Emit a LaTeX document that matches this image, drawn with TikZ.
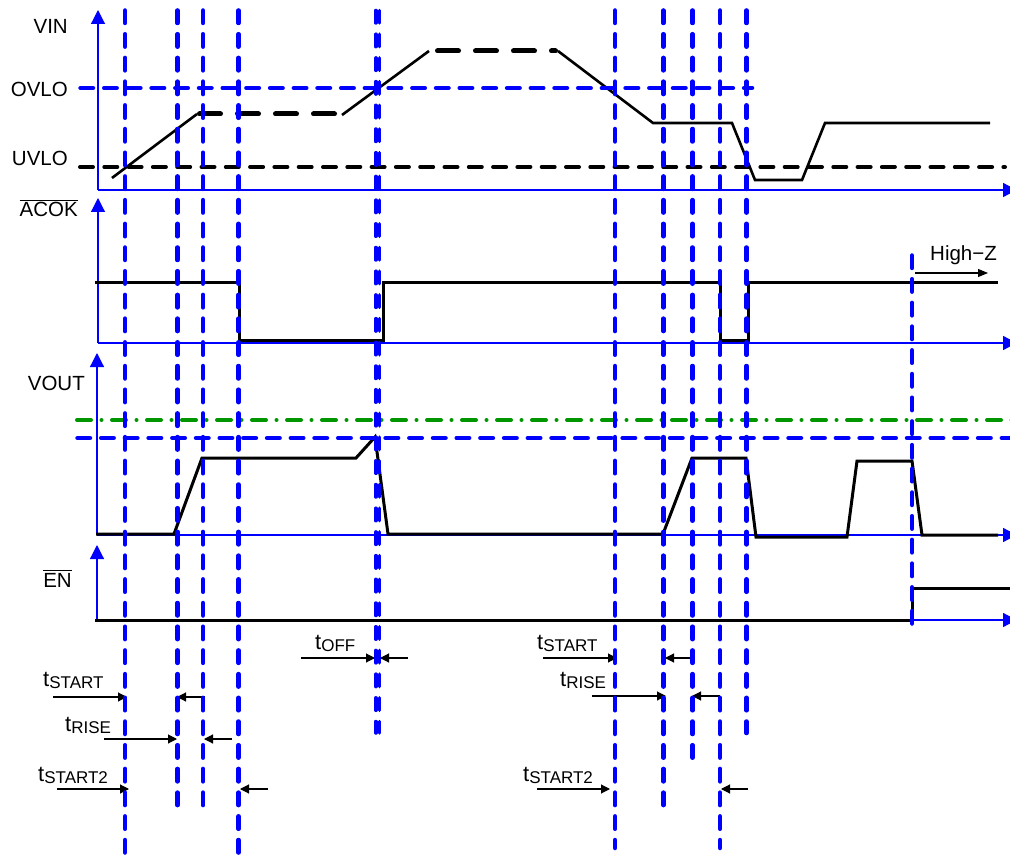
\documentclass[tikz,border=0pt]{standalone}
\usepackage{fontspec}
\setmainfont{Liberation Sans}
\usetikzlibrary{arrows.meta}
\definecolor{vgreen}{RGB}{0,150,0}
\newcommand{\tsub}[1]{{\fontsize{22}{24}\selectfont t}\raisebox{-2pt}{\fontsize{17}{17}\selectfont #1}}
\begin{document}
\begin{tikzpicture}[x=1pt,y=-1pt,
 lbl/.style={inner sep=0pt, font=\fontsize{20.5}{24}\selectfont},
 axisline/.style={blue, line width=1.2pt},
 axtip/.style={-{Triangle[length=14pt,width=14pt]}},
 guide/.style={blue, line width=4.5pt, line cap=round, dash pattern=on 12.5pt off 11.2pt},
 sig/.style={black, line width=3pt},
 vinsig/.style={black, line width=2.6pt},
 sigdash/.style={black, line width=5pt, line cap=round, dash pattern=on 21pt off 17pt},
 uvlodash/.style={black, line width=4pt, line cap=round, dash pattern=on 13pt off 11.3pt},
 greendash/.style={draw=vgreen, line width=4pt, line cap=round, dash pattern=on 14pt off 10.5pt on 0pt off 10.5pt},
 tarrow/.style={black, line width=1.1pt, -{Triangle[length=9pt,width=9pt]}},
 ovl/.style={black, line width=1.2pt},
]
\useasboundingbox (0,0) rectangle (1010,861);

% axes
\draw[axisline,axtip] (98,190) -- (98,10);
\draw[axisline,axtip] (98,190) -- (1017,190);
\draw[axisline,axtip] (98,343) -- (98,198);
\draw[axisline,axtip] (98,343) -- (1017,343);
\draw[axisline,axtip] (97,535) -- (97,353);
\draw[axisline,axtip] (97,535) -- (1017,535);
\draw[axisline,axtip] (97,620) -- (97,545);
\draw[axisline,axtip] (97,620) -- (1017,620);

% labels
\node[lbl,anchor=base east] (vin) at (68,34) {VIN};
\node[lbl,anchor=base east] (ovlo) at (68,96.5) {OVLO};
\node[lbl,anchor=base east] (uvlo) at (68,166) {UVLO};
\node[lbl,anchor=base east] (acok) at (78,217) {ACOK};
\draw[ovl] ([yshift=2pt]acok.north west) -- ([yshift=2pt]acok.north east);
\node[lbl,anchor=base east] (vout) at (85,390) {VOUT};
\node[lbl,anchor=base east] (en) at (72,587) {EN};
\draw[ovl] ([yshift=2pt]en.north west) -- ([yshift=2pt]en.north east);
\node[lbl,anchor=base west] (hiz) at (930,261) {High−Z};

% threshold lines
\draw[uvlodash] (80,167) -- (1005,167);
\draw[greendash] (77,420) -- (1012,420);

% VIN signal
\draw[vinsig] (112,178) -- (197,114);
\draw[sigdash] (199.5,114) -- (340,114);
\draw[vinsig] (342,115) -- (429,51);
\draw[sigdash] (437.5,51) -- (555.5,51);
\draw[vinsig] (558,51) -- (653,123) -- (732,123) -- (755,180) -- (802,180) -- (825,123) -- (990,123);

% ACOK signal
\draw[sig] (95,283) -- (239,283) -- (239,340) -- (383,340) -- (383,283) -- (720,283) -- (720,340) -- (748,340) -- (748,283) -- (998,283);
\coordinate (hz0) at (915,273);
\coordinate (hz1) at (988,273);
\draw[black, line width=1.1pt, -{Triangle[length=10pt,width=8pt]}] (hz0) -- (hz1);

% VOUT signal
\draw[sig] (96,534) -- (174,534) -- (202,458) -- (356,458) -- (375,437) -- (388,534) -- (663,534) -- (692,458) -- (746,458) -- (756,537) -- (847,537) -- (857,461) -- (912,461) -- (922,535) -- (998,535);

% EN signal
\draw[sig] (95,620) -- (912,620) -- (912,588) -- (1012,588);

% timing labels
\node[lbl,anchor=base west] (ts1) at (43,686) {\tsub{START}};
\node[lbl,anchor=base west] (tr1) at (65,731) {\tsub{RISE}};
\node[lbl,anchor=base west] (tss1) at (38,781) {\tsub{START2}};
\node[lbl,anchor=base west] (toff) at (315,649) {\tsub{OFF}};
\node[lbl,anchor=base west] (ts2) at (537,649) {\tsub{START}};
\node[lbl,anchor=base west] (tr2) at (560,686) {\tsub{RISE}};
\node[lbl,anchor=base west] (tss2) at (523,781) {\tsub{START2}};

% timing arrows
\draw[tarrow] (53,697) -- (127,697);
\draw[tarrow] (205,697) -- (177,697);
\draw[tarrow] (104,739) -- (177,739);
\draw[tarrow] (232,739) -- (204,739);
\draw[tarrow] (57,789) -- (129,789);
\draw[tarrow] (268,789) -- (240,789);
\draw[tarrow] (301,658) -- (375,658);
\draw[tarrow] (408,658) -- (380,658);
\draw[tarrow] (543,658) -- (617,658);
\draw[tarrow] (693,658) -- (665,658);
\draw[tarrow] (592,696) -- (666,696);
\draw[tarrow] (720,696) -- (692,696);
\draw[tarrow] (537,789) -- (610,789);
\draw[tarrow] (748,789) -- (721,789);

% blue guide lines
\draw[guide] (80.5,88) -- (752,88);
\draw[guide] (77.5,438) -- (1012,438);
\draw[guide] (125,10.5) -- (125,856);
\draw[guide] (177.5,10.5) -- (177.5,810);
\draw[guide] (203,10.5) -- (203,810);
\draw[guide] (238.5,10.5) -- (238.5,856);
\draw[guide, line width=3.5pt] (375.8,10.5) -- (375.8,733);
\draw[guide, line width=3.5pt] (379.7,10.5) -- (379.7,733);
\draw[guide] (615,10.5) -- (615,848);
\draw[guide] (663.3,10.5) -- (663.3,810);
\draw[guide] (692.5,10.5) -- (692.5,761);
\draw[guide] (720,10.5) -- (720,848);
\draw[guide] (746.5,10.5) -- (746.5,733);
\draw[guide] (912,255.5) -- (912,625);
\end{tikzpicture}
\end{document}
